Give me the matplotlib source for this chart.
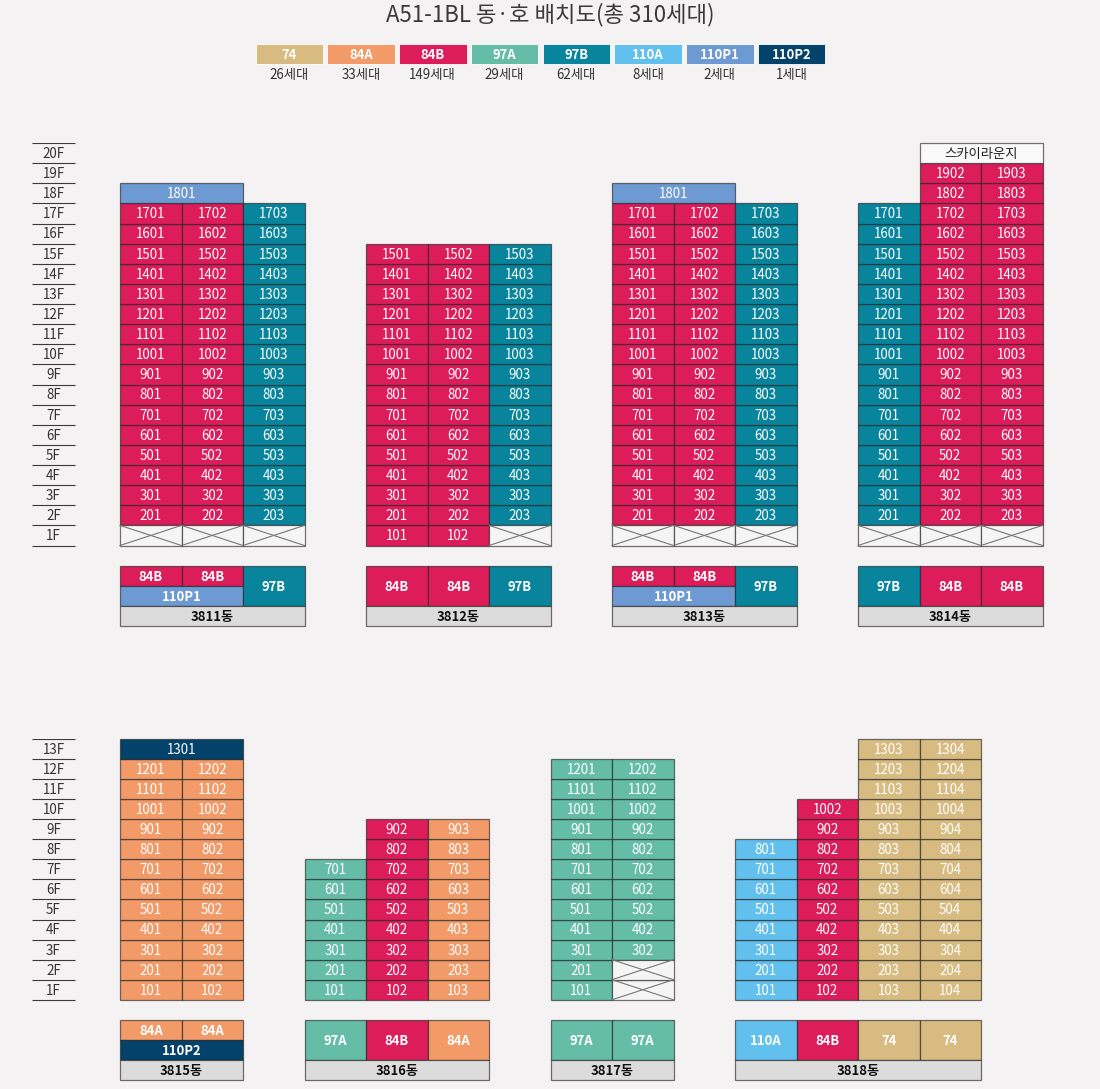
import matplotlib
matplotlib.use("Agg")
import matplotlib.pyplot as plt
from matplotlib.patches import Rectangle

FONT = ["Noto Sans CJK KR", "DejaVu Sans"]
plt.rcParams["font.family"] = FONT

TITLE = "A51-1BL 동·호 배치도(총 310세대)"
TYPES = ["74", "84A", "84B", "97A", "97B", "110A", "110P1", "110P2"]
TYPE_COUNTS = ["26세대", "33세대", "149세대", "29세대", "62세대", "8세대", "2세대", "1세대"]
TYPE_COLORS = ["#d7bb80", "#f29a68", "#dd1c5a", "#65bda8", "#08859c", "#62c0ee", "#6d9ad2", "#03426a"]
COLOR = dict(zip(TYPES, TYPE_COLORS))

# (grid column, unit number, type, first floor, last floor)
RUNS_3811 = [(0, 1, "84B", 2, 17), (1, 2, "84B", 2, 17), (2, 3, "97B", 2, 17)]
RUNS_3812 = [(4, 1, "84B", 1, 15), (5, 2, "84B", 1, 15), (6, 3, "97B", 2, 15)]
RUNS_3813 = [(8, 1, "84B", 2, 17), (9, 2, "84B", 2, 17), (10, 3, "97B", 2, 17)]
RUNS_3814 = [(12, 1, "97B", 2, 17), (13, 2, "84B", 2, 19), (14, 3, "84B", 2, 19)]
RUNS_3815 = [(0, 1, "84A", 1, 12), (1, 2, "84A", 1, 12)]
RUNS_3816 = [(3, 1, "97A", 1, 7), (4, 2, "84B", 1, 9), (5, 3, "84A", 1, 9)]
RUNS_3817 = [(7, 1, "97A", 1, 12), (8, 2, "97A", 3, 12)]
RUNS_3818 = [(10, 1, "110A", 1, 8), (11, 2, "84B", 1, 10), (12, 3, "74", 1, 13), (13, 4, "74", 1, 13)]

# (grid column, span, floor, label, type)
WIDE_TOP = [(0, 2, 18, "1801", "110P1"), (8, 2, 18, "1801", "110P1"), (13, 2, 20, "스카이라운지", None)]
WIDE_BOTTOM = [(0, 2, 13, "1301", "110P2")]

# (grid column, floor)
EMPTY_TOP = [(0, 1), (1, 1), (2, 1), (6, 1), (8, 1), (9, 1), (10, 1), (12, 1), (13, 1), (14, 1)]
EMPTY_BOTTOM = [(8, 1), (8, 2)]

# (grid column, span, level, height, type): plan blocks under each building
PLAN_TOP = [
    (0, 1, -2, 1, "84B"), (1, 1, -2, 1, "84B"), (0, 2, -3, 1, "110P1"), (2, 1, -3, 2, "97B"),
    (4, 1, -3, 2, "84B"), (5, 1, -3, 2, "84B"), (6, 1, -3, 2, "97B"),
    (8, 1, -2, 1, "84B"), (9, 1, -2, 1, "84B"), (8, 2, -3, 1, "110P1"), (10, 1, -3, 2, "97B"),
    (12, 1, -3, 2, "97B"), (13, 1, -3, 2, "84B"), (14, 1, -3, 2, "84B"),
]
PLAN_BOTTOM = [
    (0, 1, -2, 1, "84A"), (1, 1, -2, 1, "84A"), (0, 2, -3, 1, "110P2"),
    (3, 1, -3, 2, "97A"), (4, 1, -3, 2, "84B"), (5, 1, -3, 2, "84A"),
    (7, 1, -3, 2, "97A"), (8, 1, -3, 2, "97A"),
    (10, 1, -3, 2, "110A"), (11, 1, -3, 2, "84B"), (12, 1, -3, 2, "74"), (13, 1, -3, 2, "74"),
]

# (name, grid column, span)
NAMES_TOP = [("3811동", 0, 3), ("3812동", 4, 3), ("3813동", 8, 3), ("3814동", 12, 3)]
NAMES_BOTTOM = [("3815동", 0, 2), ("3816동", 3, 3), ("3817동", 7, 2), ("3818동", 10, 4)]

FLOORS_TOP = 20
FLOORS_BOTTOM = 13

# layout
W, H = 1100, 1089
BG = "#f4f2f3"
EDGE = (0.12, 0.12, 0.12, 0.62)
X0, COLW = 120.0, 61.5
CELL_FS = 9.6
LBL_FS = 9.4

fig = plt.figure(figsize=(W / 100, H / 100), dpi=100, facecolor=BG)


def panel(top_px, bottom_px, floors):
    ax = fig.add_axes([0, 1 - bottom_px / H, 1, (bottom_px - top_px) / H])
    ax.set_xlim(-X0 / COLW, (W - X0) / COLW)
    ax.set_ylim(-4, floors)
    ax.axis("off")
    return ax


def box(ax, col, span, y, h, face, label=None, color="white", fs=CELL_FS, weight="normal"):
    ax.add_patch(Rectangle((col, y), span, h, facecolor=face, edgecolor=EDGE, linewidth=0.9,
                           clip_on=False))
    if label:
        ax.text(col + span / 2, y + h / 2 + 0.03, label, ha="center", va="center_baseline",
                color=color, fontsize=fs, fontweight=weight)


def draw(ax, floors, run_sets, wide, empty, plan, names):
    # floor rulers
    lx0, lx1 = (32 - X0) / COLW, (75 - X0) / COLW
    for f in range(floors + 1):
        ax.plot([lx0, lx1], [f, f], color="#3a3a3a", lw=0.8, solid_capstyle="butt")
    for f in range(1, floors + 1):
        ax.text((lx0 + lx1) / 2, f - 0.5 + 0.03, f"{f}F", ha="center", va="center_baseline",
                fontsize=CELL_FS, color="#333333")
    for runs in run_sets:
        for col, unit, typ, f0, f1 in runs:
            for f in range(f0, f1 + 1):
                box(ax, col, 1, f - 1, 1, COLOR[typ], f"{f}{unit:02d}")
    for col, span, f, label, typ in wide:
        if typ:
            box(ax, col, span, f - 1, 1, COLOR[typ], label)
        else:
            box(ax, col, span, f - 1, 1, "#f9f9f9", label, color="#222222")
    for col, f in empty:
        box(ax, col, 1, f - 1, 1, "#f6f5f5")
        ax.plot([col, col + 1], [f - 1, f], color="#777777", lw=0.8)
        ax.plot([col, col + 1], [f, f - 1], color="#777777", lw=0.8)
    for col, span, y, h, typ in plan:
        box(ax, col, span, y, h, COLOR[typ], typ, fs=LBL_FS, weight="bold")
    for name, col, span in names:
        box(ax, col, span, -4, 1, "#dcdcdc", name, color="#111111", fs=LBL_FS, weight="bold")


draw(panel(143, 626, FLOORS_TOP), FLOORS_TOP,
     [RUNS_3811, RUNS_3812, RUNS_3813, RUNS_3814], WIDE_TOP, EMPTY_TOP, PLAN_TOP, NAMES_TOP)
draw(panel(739, 1080, FLOORS_BOTTOM), FLOORS_BOTTOM,
     [RUNS_3815, RUNS_3816, RUNS_3817, RUNS_3818], WIDE_BOTTOM, EMPTY_BOTTOM, PLAN_BOTTOM, NAMES_BOTTOM)

# title and legend
fig.text(550 / W, 1 - 14.5 / H, TITLE, ha="center", va="center", fontsize=16, color="#3a3a3a")
leg = fig.add_axes([0, 0, 1, 1])
leg.set_xlim(-255.5 / 71.75, (W - 255.5) / 71.75)
leg.set_ylim(H, 0)
leg.axis("off")
for i, (typ, cnt, c) in enumerate(zip(TYPES, TYPE_COUNTS, TYPE_COLORS)):
    leg.add_patch(Rectangle((i, 44), 67.5 / 71.75, 20, facecolor=c, edgecolor="white", linewidth=0.6))
    leg.text(i + 33.75 / 71.75, 53.6, typ, ha="center", va="center_baseline", color="white",
             fontsize=LBL_FS, fontweight="bold")
    leg.text(i + 33.75 / 71.75, 73.2, cnt, ha="center", va="center_baseline", color="#333333",
             fontsize=9.6)

fig.savefig("out.png", dpi=100, facecolor=BG)
